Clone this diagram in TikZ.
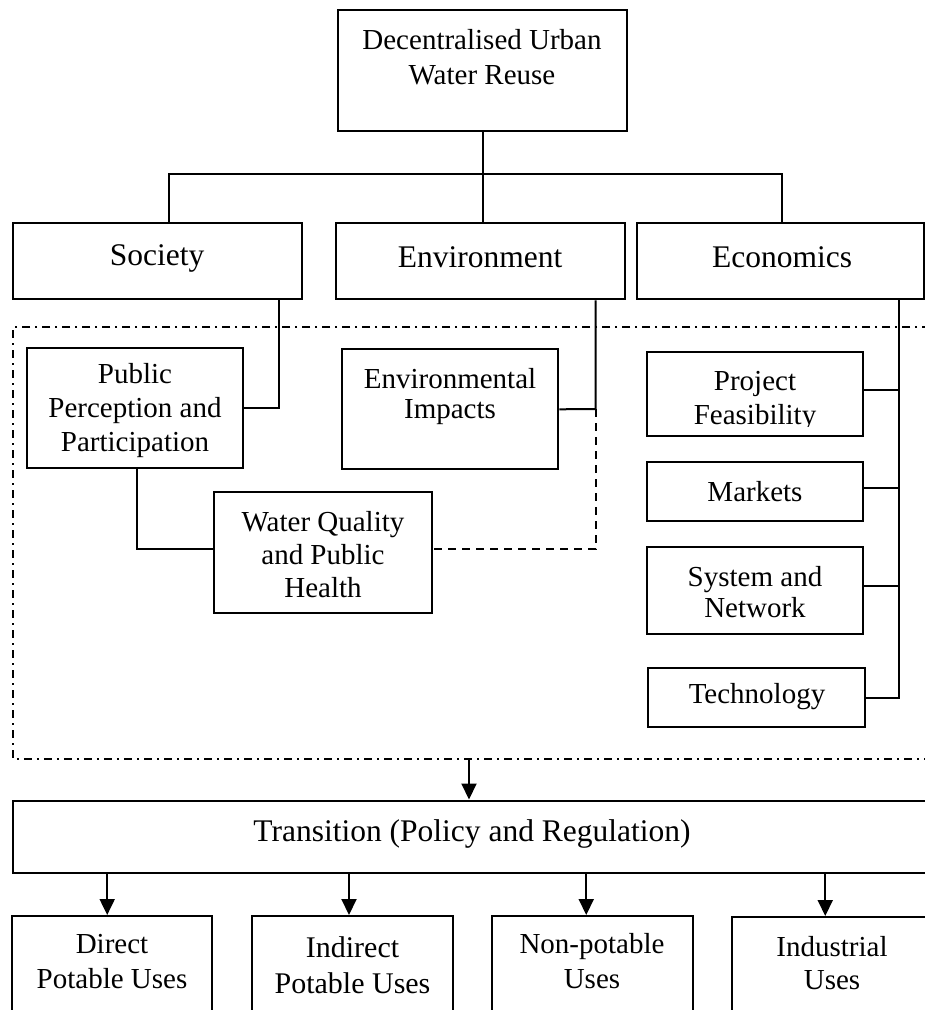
\documentclass[tikz,border=0pt]{standalone}
\usepackage{fontspec}
\setmainfont{Liberation Serif}
\usetikzlibrary{arrows.meta,calc}
\tikzset{
  box/.style={draw, line width=2pt, rectangle, inner sep=0pt},
  lbl/.style={inner sep=0pt, align=center, font=\fontsize{29}{34}\selectfont},
  big/.style={inner sep=0pt, align=center, font=\fontsize{31.5}{36}\selectfont},
  conn/.style={line width=2pt},
  dashconn/.style={line width=2pt, dash pattern=on 8pt off 6pt},
  frame/.style={line width=2pt, dash pattern=on 8pt off 5pt on 2pt off 5pt},
  arr/.style={line width=2pt, -{Triangle[length=16pt,width=15pt]}}
}
\begin{document}
\begin{tikzpicture}[x=1pt,y=-1pt]
\useasboundingbox (0,0) rectangle (925,1010);
\fill[white] (0,0) rectangle (925,1010);
\clip (0,0) rectangle (925,1010);

% boxes
\node[box, minimum width=288.5, minimum height=121] (top) at (482.25,70.5) {};
\node[lbl, font=\fontsize{29}{35}\selectfont] (toptxt) at (482,57) {Decentralised Urban\\Water Reuse};

\node[box, minimum width=289, minimum height=76.3] (soc) at (157.2,261.1) {};
\node[big] (soctxt) at (157,258) {Society};
\node[box, minimum width=288.5, minimum height=76.3] (env) at (480.25,261.1) {};
\node[big] (envtxt) at (480,257) {Environment};
\node[box, minimum width=286.5, minimum height=76.3] (eco) at (780.25,261.1) {};
\node[big] (ecotxt) at (782,257) {Economics};

\node[box, minimum width=216.3, minimum height=120.3] (ppp) at (134.85,408.15) {};
\node[lbl] (ppptxt) at (135,411) {Public\\Perception and\\Participation};
\node[box, minimum width=216.6, minimum height=120] (ei) at (450,409.3) {};
\node[lbl, font=\fontsize{29}{30}\selectfont] (eitxt) at (450,397) {Environmental\\Impacts};
\node[box, minimum width=217.7, minimum height=120.7] (wq) at (322.85,552.35) {};
\node[lbl, font=\fontsize{29}{33}\selectfont] (wqtxt) at (323,555) {Water Quality\\and Public\\Health};

\node[box, minimum width=216.3, minimum height=83.7] (pf) at (754.85,393.85) {};
\begin{scope}
\clip (pf.north west) rectangle ([yshift=10.2pt]pf.south east);
\node[lbl, font=\fontsize{29}{34.5}\selectfont] (pftxt) at (755,401) {Project\\Feasibility};
\end{scope}
\node[box, minimum width=216.6, minimum height=59.3] (mk) at (755,491.35) {};
\node[lbl] (mktxt) at (755,491.5) {Markets};
\node[box, minimum width=216.6, minimum height=87.6] (sn) at (755,590.5) {};
\node[lbl, font=\fontsize{29}{31.5}\selectfont] (sntxt) at (755,592) {System and\\Network};
\node[box, minimum width=216.7, minimum height=59.6] (tech) at (756.65,697.5) {};
\node[lbl] (techtxt) at (757,697) {Technology};

\node[box, minimum width=922, minimum height=72] (trans) at (474,836.5) {};
\node[big] (transtxt) at (472,834) {Transition (Policy and Regulation)};

\node[box, minimum width=200.4, minimum height=114] (dpu) at (112.2,973) {};
\node[lbl, font=\fontsize{29}{35}\selectfont] (dputxt) at (112,962) {Direct\\Potable Uses};
\node[box, minimum width=201, minimum height=114] (ipu) at (352.5,973) {};
\node[lbl, font=\fontsize{30}{36}\selectfont] (iputxt) at (352.5,965) {Indirect\\Potable Uses};
\node[box, minimum width=201.5, minimum height=114] (npu) at (592.25,973) {};
\node[lbl, font=\fontsize{29}{35}\selectfont] (nputxt) at (592,961) {Non-potable\\Uses};
\node[box, minimum width=208.5, minimum height=113] (iu) at (835.75,973.5) {};
\node[lbl, font=\fontsize{29}{33}\selectfont] (iutxt) at (832,963) {Industrial\\Uses};

% tree connectors
\coordinate (bar) at (483,174);
\draw[conn] (top.south -| bar) -- (bar);
\draw[conn] ([xshift=12pt]soc.north) |- (bar) -| ([xshift=1.5pt]eco.north);
\draw[conn] (bar) -- (bar |- env.north);

% society branch
\draw[conn] ([xshift=-24pt]soc.south east) |- (ppp.east);
\draw[conn] ([xshift=2pt]ppp.south) |- ([yshift=3pt]wq.west);

% environment branch
\coordinate (envj) at (595.5,409);
\draw[conn] (envj |- env.south) -- (envj) -- (ei.east);
\draw[dashconn] (envj) |- ([yshift=3pt]wq.east);

% economics branch
\coordinate (ecoj) at (899,697.5);
\draw[conn] (ecoj |- eco.south) -- (ecoj) -- (tech.east);
\draw[conn] ([yshift=4pt]pf.east) -- ([yshift=4pt]pf.east -| ecoj);
\draw[conn] ([yshift=3pt]mk.east) -- ([yshift=3pt]mk.east -| ecoj);
\draw[conn] ([yshift=4.5pt]sn.east) -- ([yshift=4.5pt]sn.east -| ecoj);

% dash-dot frame
\coordinate (fr1) at (930,327);
\coordinate (fr2) at (13,327);
\coordinate (fr3) at (13,759);
\coordinate (fr4) at (930,759);
\draw[frame] (fr1) -- (fr2) -- (fr3) -- (fr4);

% arrows
\coordinate (dd) at (469,759);
\draw[arr] (dd) -- (dd |- trans.north);
\path (dpu.north) ++(-5,0) coordinate (a1);
\path (ipu.north) ++(-3.5,0) coordinate (a2);
\path (npu.north) ++(-6,0) coordinate (a3);
\path (iu.north) ++(-10.5,0) coordinate (a4);
\draw[arr] (a1 |- trans.south) -- (a1);
\draw[arr] (a2 |- trans.south) -- (a2);
\draw[arr] (a3 |- trans.south) -- (a3);
\draw[arr] (a4 |- trans.south) -- (a4);
\end{tikzpicture}
\end{document}
